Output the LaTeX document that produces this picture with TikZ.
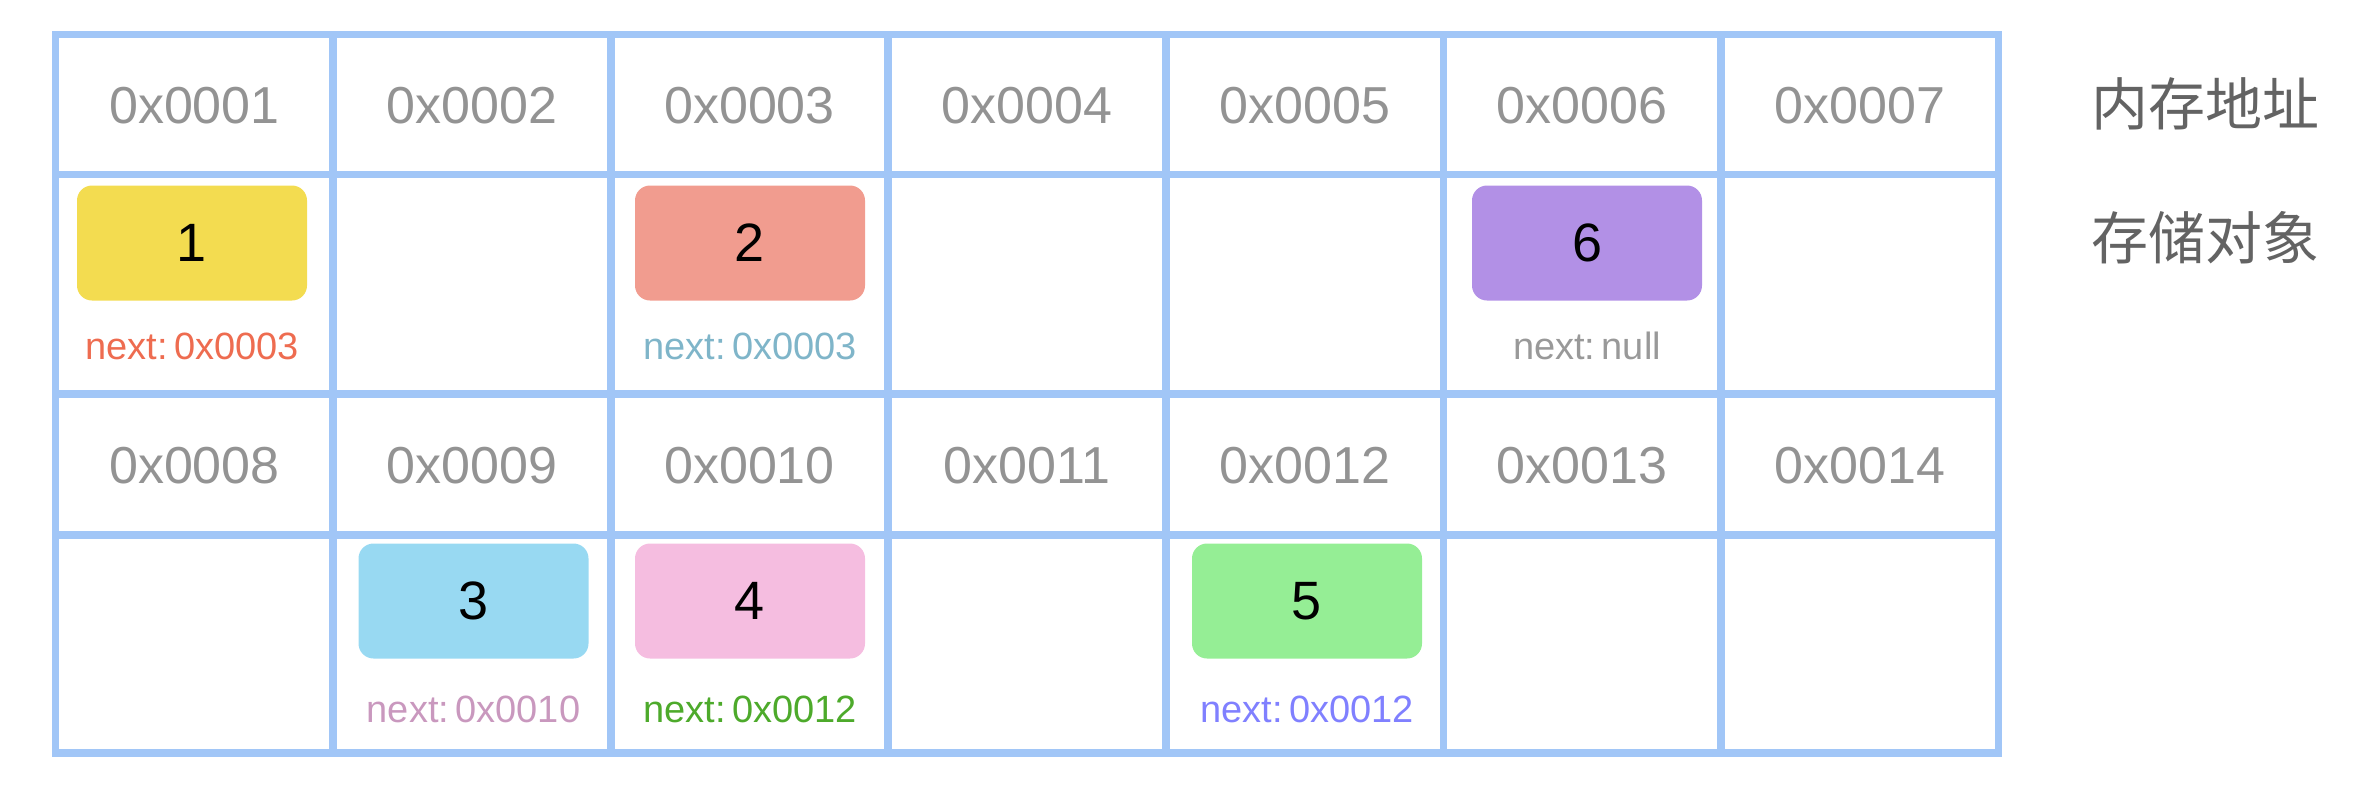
\documentclass[tikz,border=0pt]{standalone}
\usepackage{fontspec}
\setmainfont{Liberation Sans}
\newfontfamily\cjk{Noto Sans CJK SC}
\definecolor{gridblue}{HTML}{A1C6F7}
\definecolor{addrgray}{HTML}{939393}
\definecolor{labelgray}{HTML}{636363}
\definecolor{cyellow}{HTML}{F3DC50}
\definecolor{csalmon}{HTML}{F19C8F}
\definecolor{cpurple}{HTML}{B290E6}
\definecolor{csky}{HTML}{98D9F2}
\definecolor{cpink}{HTML}{F5BDE0}
\definecolor{cgreen}{HTML}{95EE95}
\definecolor{nred}{HTML}{EE6C50}
\definecolor{nteal}{HTML}{7FB5C9}
\definecolor{ngray}{HTML}{999999}
\definecolor{nmauve}{HTML}{C998BE}
\definecolor{ngreen}{HTML}{4DAA2B}
\definecolor{nblue}{HTML}{8080FF}
\begin{document}
\begin{tikzpicture}[x=0.5pt,y=-0.5pt,
  gridline/.style={draw=gridblue,line width=3.8pt,line cap=rect},
  addr/.style={anchor=base,text=addrgray,font=\fontsize{26}{30}\selectfont,inner sep=0pt},
  objbox/.style={rectangle,rounded corners=7.5pt,minimum width=115pt,minimum height=57.5pt,inner sep=0pt,font=\fontsize{27}{32}\selectfont,text=black},
  nextlbl/.style={anchor=base,font=\fontsize{19}{23}\selectfont,inner sep=0pt},
  side/.style={text=labelgray,font=\cjk\fontsize{28.5}{34}\selectfont,inner sep=0pt}]
\useasboundingbox (0,0) rectangle (2356,804);
% grid
\foreach \i in {0,...,7}
  \draw[gridline] ({55.6+277.56*\i},34.6) -- ({55.6+277.56*\i},752.8);
\foreach \y in {34.6,174.3,393.7,534.9,752.8}
  \draw[gridline] (55.6,\y) -- (1998.5,\y);
% addresses
\foreach \t [count=\k from 0] in {0x0001,0x0002,0x0003,0x0004,0x0005,0x0006,0x0007}
  \node[addr] (a\k) at ({194.4+277.56*\k},123.3) {\t};
\foreach \t [count=\k from 0] in {0x0008,0x0009,0x0010,0x0011,0x0012,0x0013,0x0014}
  \node[addr] (b\k) at ({194.4+277.56*\k},483.1) {\t};
% objects
\node[objbox,fill=cyellow] (o1) at (192,243) {1};
\node[objbox,fill=csalmon] (o2) at (750,243) {2};
\node[objbox,fill=cpurple] (o6) at (1587,243) {6};
\node[objbox,fill=csky]    (o3) at (473.5,601) {3};
\node[objbox,fill=cpink]   (o4) at (750,601) {4};
\node[objbox,fill=cgreen]  (o5) at (1307,601) {5};
% next labels
\node[nextlbl,text=nred]   (n1) at (192,359) {next:\,0x0003};
\node[nextlbl,text=nteal]  (n2) at (750,359) {next:\,0x0003};
\node[nextlbl,text=ngray]  (n6) at (1587,359) {next:\,null};
\node[nextlbl,text=nmauve] (n3) at (473.5,722) {next:\,0x0010};
\node[nextlbl,text=ngreen] (n4) at (750,722) {next:\,0x0012};
\node[nextlbl,text=nblue]  (n5) at (1307,722) {next:\,0x0012};
% side labels
\node[side] (s1) at (2205,104) {内存地址};
\node[side] (s2) at (2205,238) {存储对象};
\end{tikzpicture}
\end{document}
